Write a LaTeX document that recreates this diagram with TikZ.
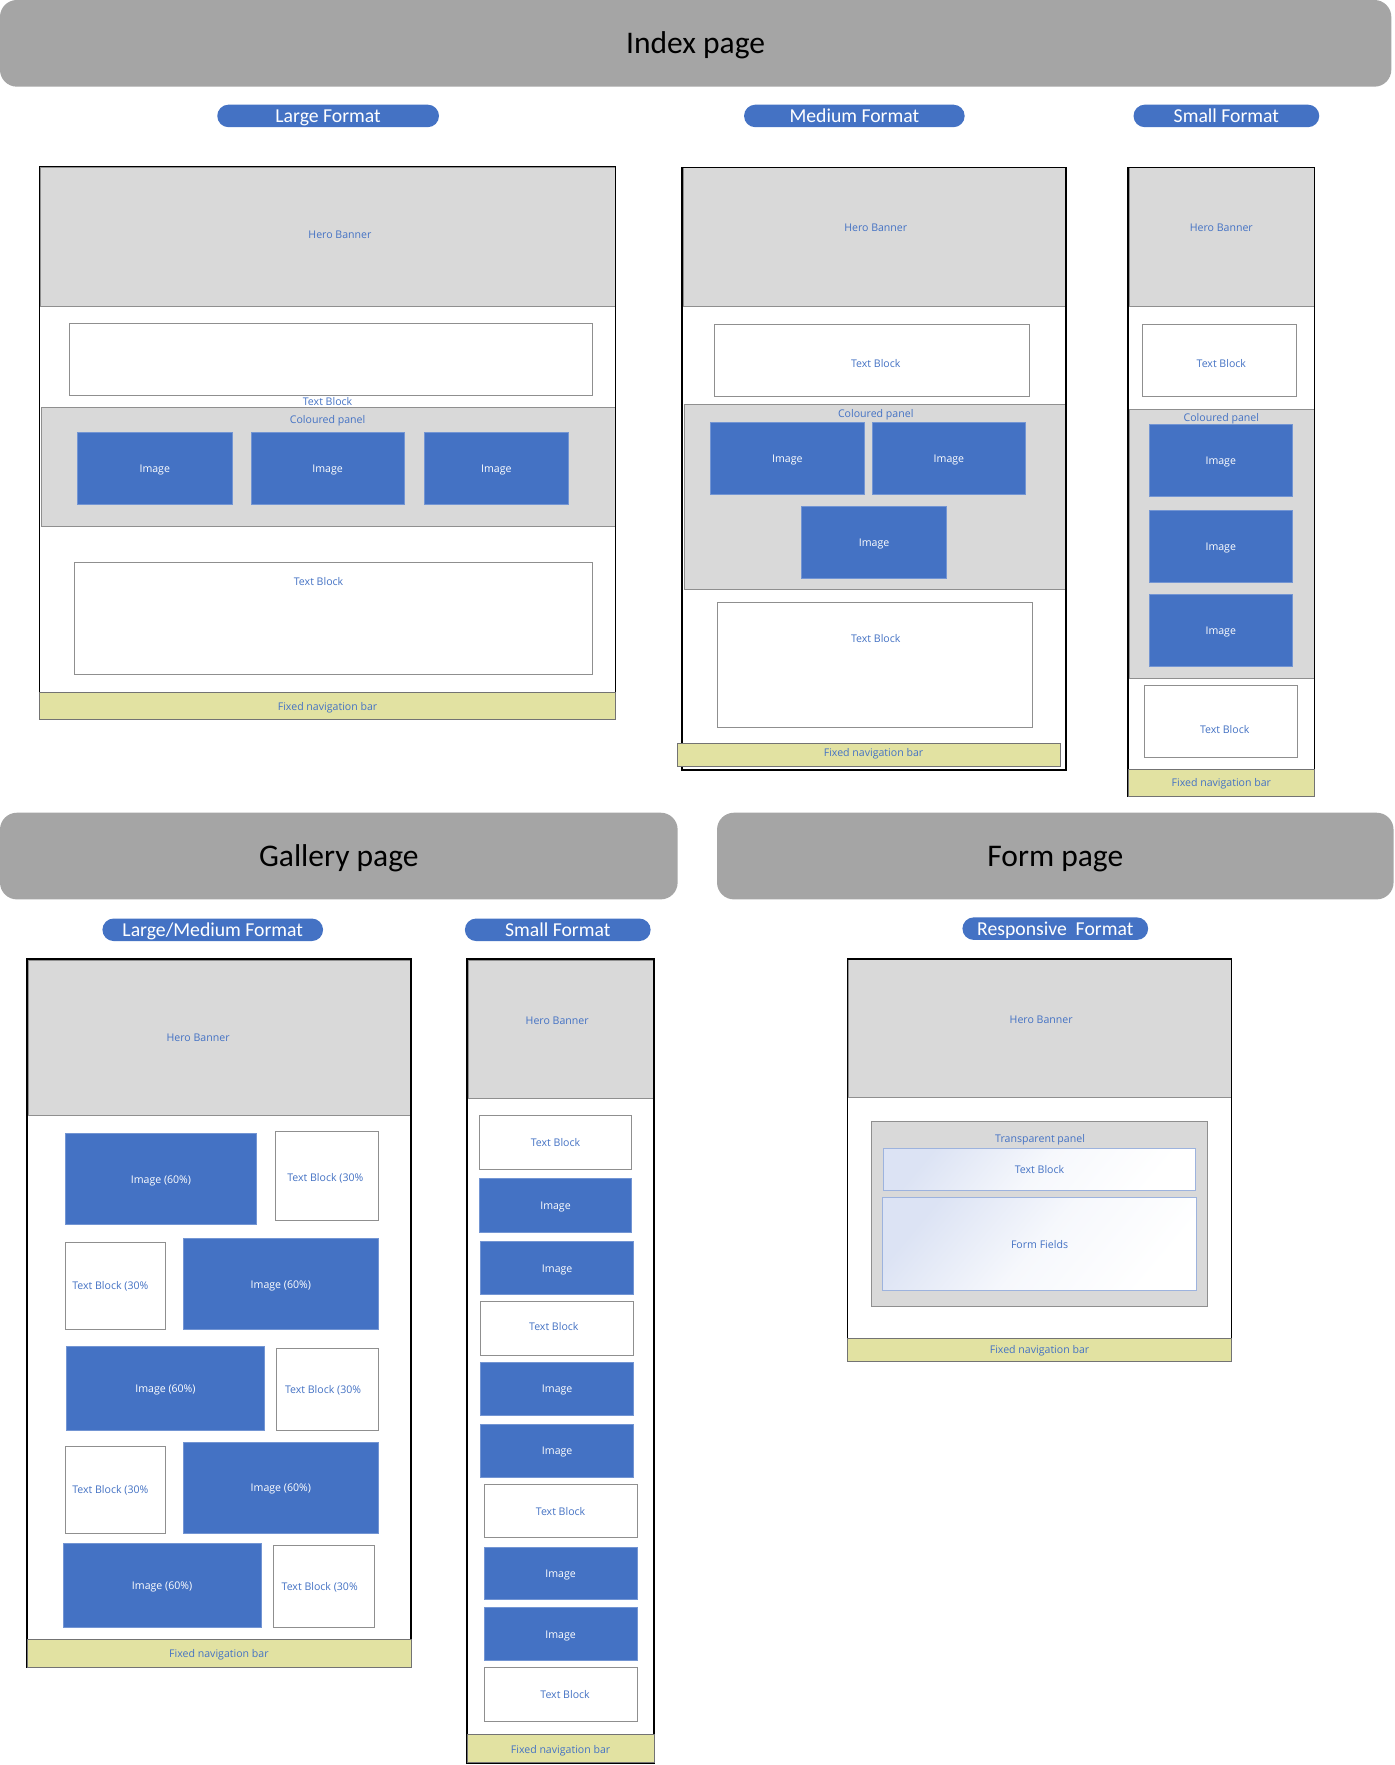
\documentclass[tikz,border=0pt]{standalone}
\usepackage{fontspec}
\setmainfont{Carlito}
\newfontfamily\lblfont{Open Sans}
\definecolor{bannergray}{HTML}{A5A5A5}
\definecolor{panelgray}{HTML}{D9D9D9}
\definecolor{accent}{HTML}{4472C4}
\definecolor{navyellow}{HTML}{E2E2A2}
\definecolor{edgegray}{HTML}{8F8F8F}
\definecolor{paleblue}{HTML}{DCE3F4}
\definecolor{formedge}{HTML}{9DB3DE}

% box from corner (x1,y1) to corner (x2,y2): style, name, x1, y1, x2, y2, text
\newcommand{\blk}[7]{\node[#1, minimum width={(#5)-(#3)}, minimum height={(#6)-(#4)}] (#2) at ({((#3)+(#5))/2},{((#4)+(#6))/2}) {#7};}

\tikzset{
  every node/.style={inner sep=0pt, outer sep=0pt},
  small text/.style={font=\lblfont\fontsize{9.4}{10.5}\selectfont, text height=8.2pt, text depth=0.5pt},
  banner/.style={fill=bannergray, rounded corners=15pt, text=black, font=\fontsize{28}{32}\selectfont, text height=21pt, text depth=3pt},
  pill/.style={fill=accent, rounded corners=10pt, text=white, font=\fontsize{17.5}{20}\selectfont, text height=13.5pt, text depth=2pt},
  hero/.style={fill=panelgray, draw=edgegray, line width=0.8pt, text=accent, small text},
  panel/.style={fill=panelgray, draw=edgegray, line width=0.8pt},
  tblock/.style={fill=white, draw=edgegray, line width=0.9pt, text=accent, small text},
  img/.style={fill=accent, draw=accent!75!white, line width=0.5pt, text=white, small text},
  formbox/.style={draw=formedge, line width=0.8pt, shading=axis, left color=paleblue, right color=white, middle color=white!75!paleblue, shading angle=50, text=accent, small text},
  screen/.style={draw=black, line width=1.3pt},
  navbar/.style={fill=navyellow, draw=black!55, line width=0.5pt, text=accent, small text},
  lbl/.style={text=accent, small text},
}

\begin{document}
\begin{tikzpicture}[x=1pt, y=-1pt]
\useasboundingbox (0,0) rectangle (1239,1568);
\fill[white] (0,0) rectangle (1239,1568);

% ---------------- Index page ----------------
\blk{banner}{idx}{0}{0}{1236}{77}{Index page}
\blk{pill}{idxL}{193}{93}{390}{113}{Large Format}
\blk{pill}{idxM}{661}{93}{857}{113}{Medium Format}
\blk{pill}{idxS}{1007}{93}{1172}{113}{Small Format}

% large layout
\blk{hero}{iLhero}{36}{149}{547}{272}{}
\node[lbl] (iLhero-t) at (302,208) {Hero Banner};
\blk{tblock}{iLt1}{62}{287}{526}{351}{}
\node[lbl] (iLt1-t) at (291,356) {Text Block};
\blk{panel}{iLpanel}{37}{362}{547}{468}{}
\node[lbl] (iLpanel-t) at (291,372) {Coloured panel};
\blk{img}{iLi1}{69}{384}{206}{448}{Image}
\blk{img}{iLi2}{223}{384}{359}{448}{Image}
\blk{img}{iLi3}{377}{384}{505}{448}{Image}
\blk{tblock}{iLt2}{66}{500}{526}{599}{}
\node[lbl] (iLt2-t) at (283,516) {Text Block};
\blk{screen}{iLscreen}{35}{148}{547}{639}{}
\blk{navbar}{iLnav}{35}{615}{547}{639}{Fixed navigation bar}

% medium layout
\blk{hero}{iMhero}{607}{149}{947}{272}{}
\node[lbl] (iMhero-t) at (778,202) {Hero Banner};
\blk{tblock}{iMt1}{635}{288}{915}{352}{}
\node[lbl] (iMt1-t) at (778,323) {Text Block};
\blk{panel}{iMpanel}{608}{359}{947}{524}{}
\node[lbl] (iMpanel-t) at (778,367) {Coloured panel};
\blk{img}{iMi1}{631}{375}{768}{439}{Image}
\blk{img}{iMi2}{775}{375}{911}{439}{Image}
\blk{img}{iMi3}{712}{450}{841}{514}{Image}
\blk{tblock}{iMt2}{637}{535}{917}{646}{}
\node[lbl] (iMt2-t) at (778,567) {Text Block};
\blk{screen}{iMscreen}{606}{149}{947}{684}{}
\blk{navbar}{iMnav}{602}{660}{942}{681}{}
\node[lbl] (iMnav-t) at (776,668) {Fixed navigation bar};

% small layout
\blk{hero}{iShero}{1003}{149}{1168}{272}{}
\node[lbl] (iShero-t) at (1085,202) {Hero Banner};
\blk{tblock}{iSt1}{1015}{288}{1152}{352}{}
\node[lbl] (iSt1-t) at (1085,323) {Text Block};
\blk{panel}{iSpanel}{1003}{364}{1168}{603}{}
\node[lbl] (iSpanel-t) at (1085,371) {Coloured panel};
\blk{img}{iSi1}{1021}{377}{1148}{441}{Image}
\blk{img}{iSi2}{1021}{453}{1148}{517}{Image}
\blk{img}{iSi3}{1021}{528}{1148}{592}{Image}
\blk{tblock}{iSt2}{1017}{609}{1153}{673}{}
\node[lbl] (iSt2-t) at (1088,648) {Text Block};
\blk{screen}{iSscreen}{1002}{149}{1168}{707}{}
\blk{navbar}{iSnav}{1002}{683}{1168}{707}{Fixed navigation bar}

% ---------------- Gallery page ----------------
\blk{banner}{gal}{0}{722}{602}{799}{Gallery page}
\blk{pill}{galLM}{91}{816}{287}{836}{Large/Medium Format}
\blk{pill}{galS}{413}{816}{578}{836}{Small Format}

% large/medium layout
\blk{hero}{gLhero}{25}{853}{365}{991}{}
\node[lbl] (gLhero-t) at (176,921) {Hero Banner};
\blk{img}{gLi1}{58}{1007}{228}{1088}{Image (60\%)}
\blk{tblock}{gLt1}{245}{1005}{336}{1084}{}
\node[lbl] (gLt1-t) at (289,1046) {Text Block (30\%};
\blk{tblock}{gLt2}{58}{1104}{147}{1181}{}
\node[lbl] (gLt2-t) at (98,1142) {Text Block (30\%};
\blk{img}{gLi2}{163}{1100}{336}{1181}{Image (60\%)}
\blk{img}{gLi3}{59}{1196}{235}{1271}{Image (60\%)}
\blk{tblock}{gLt3}{246}{1198}{336}{1271}{}
\node[lbl] (gLt3-t) at (287,1234) {Text Block (30\%};
\blk{tblock}{gLt4}{58}{1285}{147}{1362}{}
\node[lbl] (gLt4-t) at (98,1323) {Text Block (30\%};
\blk{img}{gLi4}{163}{1281}{336}{1362}{Image (60\%)}
\blk{img}{gLi5}{56}{1371}{232}{1446}{Image (60\%)}
\blk{tblock}{gLt5}{243}{1373}{333}{1446}{}
\node[lbl] (gLt5-t) at (284,1409) {Text Block (30\%};
\blk{screen}{gLscreen}{24}{852}{365}{1481}{}
\blk{navbar}{gLnav}{24}{1456}{365}{1481}{Fixed navigation bar}

% small layout
\blk{hero}{gShero}{416}{853}{581}{976}{}
\node[lbl] (gShero-t) at (495,906) {Hero Banner};
\blk{tblock}{gSt1}{426}{991}{561}{1039}{Text Block}
\blk{img}{gSi1}{426}{1047}{561}{1095}{Image}
\blk{img}{gSi2}{427}{1103}{563}{1150}{Image}
\blk{tblock}{gSt2}{427}{1156}{563}{1204}{}
\node[lbl] (gSt2-t) at (492,1178) {Text Block};
\blk{img}{gSi3}{427}{1210}{563}{1257}{Image}
\blk{img}{gSi4}{427}{1265}{563}{1312}{Image}
\blk{tblock}{gSt3}{430}{1319}{566}{1366}{Text Block}
\blk{img}{gSi5}{430}{1375}{566}{1421}{Image}
\blk{img}{gSi6}{430}{1428}{566}{1475}{Image}
\blk{tblock}{gSt4}{430}{1481}{566}{1529}{}
\node[lbl] (gSt4-t) at (502,1505) {Text Block};
\blk{screen}{gSscreen}{415}{852}{581}{1566}{}
\blk{navbar}{gSnav}{415}{1541}{581}{1566}{Fixed navigation bar}

% ---------------- Form page ----------------
\blk{banner}{frm}{637}{722}{1238}{799}{Form page}
\blk{pill}{frmR}{855}{815}{1020}{835}{Responsive\ \ Format}

\blk{hero}{fhero}{754}{852}{1094}{975}{}
\node[lbl] (fhero-t) at (925,905) {Hero Banner};
\blk{panel}{fpanel}{774}{996}{1073}{1161}{}
\node[lbl] (fpanel-t) at (924,1011) {Transparent panel};
\blk{formbox}{ftext}{785}{1020}{1062}{1058}{Text Block}
\blk{formbox}{ffields}{784}{1064}{1063}{1146}{Form Fields}
\blk{screen}{fscreen}{753}{852}{1094}{1209}{}
\blk{navbar}{fnav}{753}{1189}{1094}{1209}{Fixed navigation bar}
\end{tikzpicture}
\end{document}
